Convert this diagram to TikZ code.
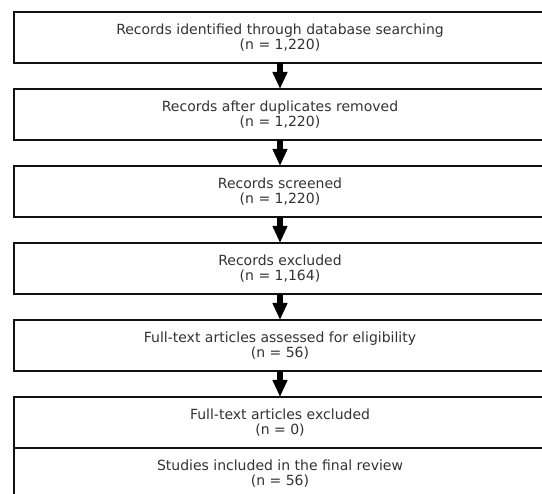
\documentclass[tikz,border=0pt]{standalone}
\usepackage{fontspec}
\setmainfont{DejaVu Sans}
\usetikzlibrary{arrows.meta,positioning}
\usepackage{xcolor}
\definecolor{ink}{HTML}{333333}
\definecolor{edge}{HTML}{111111}
\tikzset{
  box/.style={draw=edge, fill=white, line width=1.5pt, align=center,
              minimum width=532pt, minimum height=51pt, inner sep=0pt,
              outer sep=0pt, text=ink, font=\fontsize{14}{15.5}\selectfont},
  ar/.style={-{Triangle[length=17pt, width=14pt]}, line width=6pt, draw=black}
}

\begin{document}
\begin{tikzpicture}[x=1pt,y=-1pt]
  \useasboundingbox (0,0) rectangle (542,494);
  \clip (0,0) rectangle (542,494);

  \node[box] (ident) at (280,37.5)
      {Records identified through database searching\\(n = 1,220)};
  \node[box] (dedup) at (280,114.5)
      {Records after duplicates removed\\(n = 1,220)};
  \node[box] (screen) at (280,191.5)
      {Records screened\\(n = 1,220)};
  \node[box] (excl) at (280,268.5)
      {Records excluded\\(n = 1,164)};
  \node[box] (full) at (280,345.5)
      {Full-text articles assessed for eligibility\\(n = 56)};
  \node[box] (fullexcl) at (280,422.5)
      {Full-text articles excluded\\(n = 0)};
  \node[box] (incl) at (280,473.5)
      {Studies included in the final review\\(n = 56)};

  % arrows between stages
  \draw[ar] (ident) -- (dedup);
  \draw[ar] (dedup) -- (screen);
  \draw[ar] (screen) -- (excl);
  \draw[ar] (excl) -- (full);
  \draw[ar] (full) -- (fullexcl);
\end{tikzpicture}
\end{document}
